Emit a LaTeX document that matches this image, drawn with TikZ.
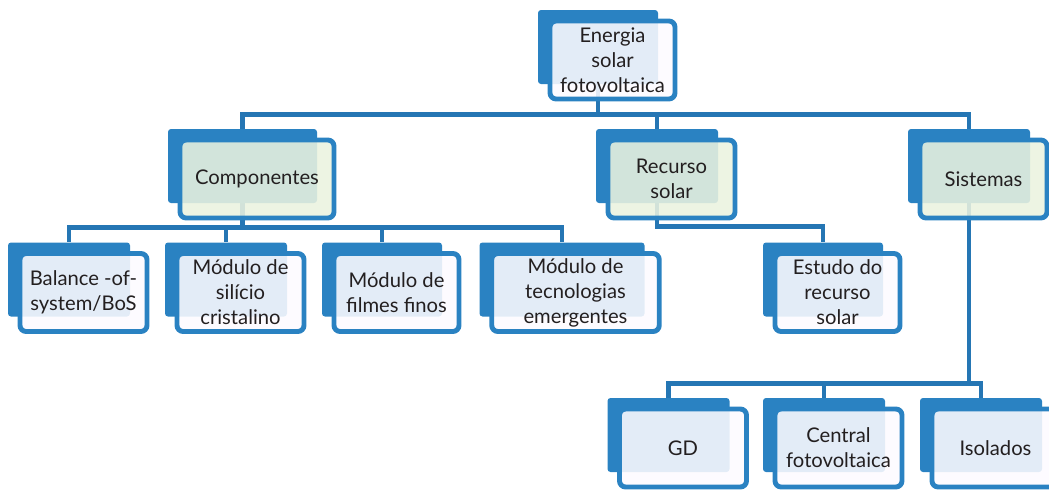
\documentclass[tikz,border=0pt]{standalone}
\usepackage{fontspec}
\setmainfont{Lato}
\usepackage{tikz}
\usetikzlibrary{positioning}
\usetikzlibrary{backgrounds}

\definecolor{boxblue}{HTML}{2A82C2}
\definecolor{linkblue}{HTML}{2576B4}
\definecolor{palegreen}{HTML}{EAF2DF}
\definecolor{paleleaf}{HTML}{FDFBFF}
\definecolor{inktext}{HTML}{231F20}

\begin{document}
\begin{tikzpicture}[
	back node/.style={rectangle,rounded corners=1.7pt,fill=boxblue,inner sep=0pt,
		minimum width=2.44cm,minimum height=1.48cm},
	front node/.style={rectangle,rounded corners=3.5pt,draw=boxblue,line width=2.8pt,
		fill=paleleaf,fill opacity=0.88,text opacity=1,inner sep=1pt,align=center,
		minimum width=2.54cm,minimum height=1.56cm,text=inktext,
		font=\fontsize{11.5}{14.2}\selectfont},
	mid node/.style={front node,fill=palegreen},
	link/.style={draw=linkblue,line width=2.5pt}]
	
	\clip (0,0) rectangle (20.98,-9.8);
	
	% back boxes
	\node[back node,minimum width=2.4cm] (root) at (11.96,-0.94) {};
	\node[back node,minimum width=2.98cm] (comp) at (4.85,-3.32) {};
	\node[back node] (recurso) at (13.14,-3.32) {};
	\node[back node] (sist) at (19.38,-3.32) {};
	\node[back node] (bos) at (1.38,-5.59) {};
	\node[back node] (silicio) at (4.52,-5.59) {};
	\node[back node,minimum width=2.4cm] (filmes) at (7.64,-5.59) {};
	\node[back node,minimum width=3.3cm] (tecno) at (11.24,-5.59) {};
	\node[back node,minimum width=2.4cm] (estudo) at (16.46,-5.59) {};
	\node[back node] (gd) at (13.37,-8.70) {};
	\node[back node] (central) at (16.48,-8.70) {};
	\node[back node] (isol) at (19.62,-8.70) {};
	
	% front boxes with the texts
	\node[front node,minimum width=2.5cm] (root-f) at ([shift={(0.29,-0.26)}]root.center) {Energia\\solar\\fotovoltaica};
	\node[mid node,minimum width=3.08cm] (comp-f) at ([shift={(0.29,-0.26)}]comp.center) {Componentes};
	\node[mid node] (recurso-f) at ([shift={(0.29,-0.26)}]recurso.center) {Recurso\\solar};
	\node[mid node] (sist-f) at ([shift={(0.29,-0.26)}]sist.center) {Sistemas};
	\node[front node] (bos-f) at ([shift={(0.29,-0.26)}]bos.center) {Balance -of-\\system/BoS};
	\node[front node] (silicio-f) at ([shift={(0.29,-0.26)}]silicio.center) {Módulo de\\silício\\cristalino};
	\node[front node,minimum width=2.5cm] (filmes-f) at ([shift={(0.29,-0.26)}]filmes.center) {Módulo de\\filmes finos};
	\node[front node,minimum width=3.35cm] (tecno-f) at ([shift={(0.27,-0.26)}]tecno.center) {Módulo de\\tecnologias\\emergentes};
	\node[front node,minimum width=2.5cm] (estudo-f) at ([shift={(0.29,-0.26)}]estudo.center) {Estudo do\\recurso\\solar};
	\node[front node] (gd-f) at ([shift={(0.29,-0.26)}]gd.center) {GD};
	\node[front node] (central-f) at ([shift={(0.29,-0.26)}]central.center) {Central\\fotovoltaica};
	\node[front node] (isol-f) at ([shift={(0.29,-0.26)}]isol.center) {Isolados};
	
	\begin{pgfonlayer}{background}
	\path[link]
	(root.south) -- ++(0,-0.6) -| (comp.north)
	(root.south) -- ++(0,-0.6) -| (recurso.north)
	(root.south) -- ++(0,-0.6) -| (sist.north)
	(comp.south) -- ++(0,-0.48) -| (bos.north)
	(comp.south) -- ++(0,-0.48) -| (silicio.north)
	(comp.south) -- ++(0,-0.48) -| (filmes.north)
	(comp.south) -- ++(0,-0.48) -| (tecno.north)
	(recurso.south) -- ++(0,-0.46) -| (estudo.north)
	(sist.south) -- ++(0,-3.6) -| (gd.north)
	(sist.south) -- ++(0,-3.6) -| (central.north)
	(sist.south) -- ++(0,-3.6) -| (isol.north);
	\end{pgfonlayer}
\end{tikzpicture}
\end{document}
